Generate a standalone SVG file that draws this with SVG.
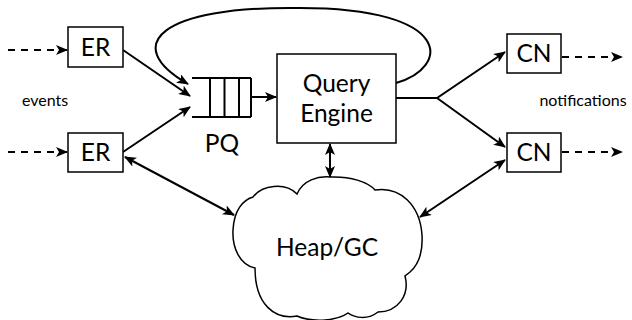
<svg xmlns="http://www.w3.org/2000/svg" width="632" height="320" viewBox="0 0 632 320">
<style>
.box{fill:#fff;stroke:#000;stroke-width:1.5}
.ln{fill:none;stroke:#000;stroke-width:2}
.dash{fill:none;stroke:#000;stroke-width:2;stroke-dasharray:7 6}
.t{font-family:Lato,"Open Sans",sans-serif;fill:#000;text-anchor:middle}
.big{font-size:24.5px}
.small{font-size:16px}
</style>
<defs>
<marker id="ah" viewBox="0 0 12 10" refX="11" refY="5" markerWidth="12" markerHeight="10" markerUnits="userSpaceOnUse" orient="auto-start-reverse">
<path d="M0,0 L12,5 L0,10 L3,5 z" fill="#000"/>
</marker>
</defs>
<g id="connectors">
<path class="dash" d="M8 50 L67 50" marker-end="url(#ah)"/>
<path class="dash" d="M8 152 L67 152" marker-end="url(#ah)"/>
<path class="dash" d="M562 57 L622 57" marker-end="url(#ah)"/>
<path class="dash" d="M562 152 L622 152" marker-end="url(#ah)"/>
<path class="ln" d="M123 50 L190 96" marker-end="url(#ah)"/>
<path class="ln" d="M123 152 L190 107" marker-end="url(#ah)"/>
<path class="ln" d="M251 97 L276 97" marker-end="url(#ah)"/>
<path class="ln" d="M396 83 C450 68, 455 8, 300 8 C160 6, 120 45, 188 84" marker-end="url(#ah)"/>
<path class="ln" d="M396 98 L437 98 L505 52" marker-end="url(#ah)"/>
<path class="ln" d="M437 98 L505 147" marker-end="url(#ah)"/>
<path class="ln" d="M330 144 L330 177" marker-start="url(#ah)" marker-end="url(#ah)"/>
<path class="ln" d="M125 157 L234 215" marker-start="url(#ah)" marker-end="url(#ah)"/>
<path class="ln" d="M505 160 L420 217" marker-start="url(#ah)" marker-end="url(#ah)"/>
</g>
<g id="er1"><rect class="box" x="68" y="27" width="55" height="40"/><text class="t big" x="95.5" y="56">ER</text></g>
<g id="er2"><rect class="box" x="68" y="133" width="55" height="39"/><text class="t big" x="95.5" y="161">ER</text></g>
<g id="pq">
<path class="ln" d="M192 78 L251 78 M192 117 L251 117 M210 78 L210 117 M224.5 78 L224.5 117 M239 78 L239 117 M251 78 L251 117"/>
<text class="t big" x="222" y="152">PQ</text>
</g>
<g id="qe"><rect class="box" x="277" y="54" width="119" height="89"/><text class="t big" x="336.5" y="92">Query</text><text class="t big" x="336.5" y="122">Engine</text></g>
<g id="cn1"><rect class="box" x="507" y="34" width="54" height="39"/><text class="t big" x="534" y="62">CN</text></g>
<g id="cn2"><rect class="box" x="507" y="133" width="54" height="39"/><text class="t big" x="534" y="161">CN</text></g>
<g id="heap">
<path class="box" d="M253 197 C262 185, 285 182, 297 194 C303 180, 318 176, 330 177 C350 176, 368 182, 375 190 C400 186, 420 205, 422 235 C423 252, 418 265, 410 272 L405 276 C410 295, 398 312, 378 312 C368 320, 355 318, 348 313 C335 322, 310 322, 297 316 C275 320, 255 305, 255 268 C240 265, 232 248, 233 230 C234 210, 243 200, 253 197 Z"/>
<text class="t big" x="327" y="256">Heap/GC</text>
</g>
<text class="t small" x="45" y="106">events</text>
<text class="t small" x="583" y="106">notifications</text>
</svg>
